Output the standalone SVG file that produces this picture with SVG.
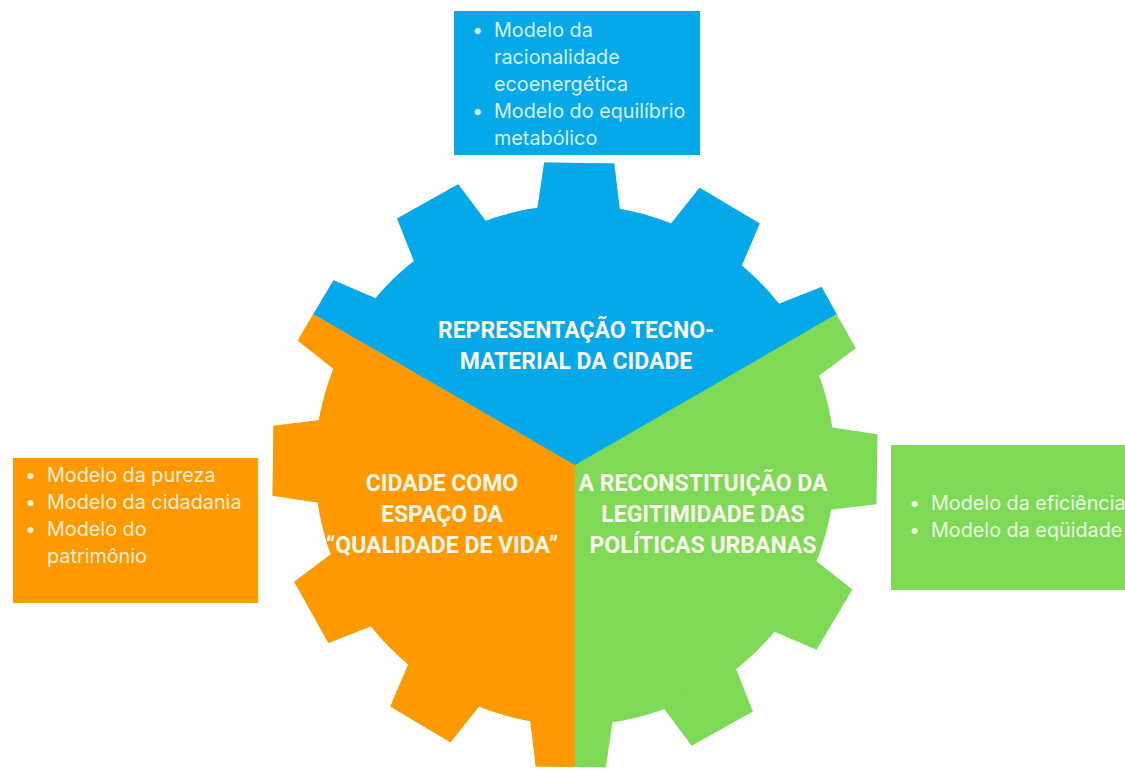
<svg xmlns="http://www.w3.org/2000/svg" xmlns:xlink="http://www.w3.org/1999/xlink" width="1125" height="771" viewBox="0 0 1125 771">
<style>
.blue{fill:#05A8E8}
.orange{fill:#FE9A00}
.green{fill:#7ED957}
.title{font-family:Roboto,"Liberation Sans",sans-serif;font-weight:700;font-size:23px;fill:#FBF7EC;text-anchor:middle}
.item{font-family:Inter,"Liberation Sans",sans-serif;font-size:19.8px;fill:#FFFFFF;fill-opacity:0.85}
</style>
<defs>
<g id="gear-shape">
<circle cx="0" cy="0" r="260"/>
<polygon id="tooth" points="-42,-250 -35,-302 35,-302 42,-250"/>
<use xlink:href="#tooth" transform="rotate(30)"/>
<use xlink:href="#tooth" transform="rotate(60)"/>
<use xlink:href="#tooth" transform="rotate(90)"/>
<use xlink:href="#tooth" transform="rotate(120)"/>
<use xlink:href="#tooth" transform="rotate(150)"/>
<use xlink:href="#tooth" transform="rotate(180)"/>
<use xlink:href="#tooth" transform="rotate(210)"/>
<use xlink:href="#tooth" transform="rotate(240)"/>
<use xlink:href="#tooth" transform="rotate(270)"/>
<use xlink:href="#tooth" transform="rotate(300)"/>
<use xlink:href="#tooth" transform="rotate(330)"/>
</g>
<clipPath id="clip-blue"><polygon points="575,465 -291,-35 1441,-35"/></clipPath>
<clipPath id="clip-orange"><polygon points="575,465 -291,-35 575,1465"/></clipPath>
</defs>

<g id="gear">
<g id="sector-green">
<use xlink:href="#gear-shape" class="green" transform="translate(575,465) rotate(0.8)"/>
<text class="title" x="703" y="491">A RECONSTITUIÇÃO DA</text>
<text class="title" x="703" y="522">LEGITIMIDADE DAS</text>
<text class="title" x="703" y="553">POLÍTICAS URBANAS</text>
</g>
<g id="sector-orange">
<g clip-path="url(#clip-orange)"><use xlink:href="#gear-shape" class="orange" transform="translate(575,465) rotate(0.8)"/></g>
<text class="title" x="442" y="491">CIDADE COMO</text>
<text class="title" x="442" y="522">ESPAÇO DA</text>
<text class="title" x="442" y="553">“QUALIDADE DE VIDA”</text>
</g>
<g id="sector-blue">
<g clip-path="url(#clip-blue)"><use xlink:href="#gear-shape" class="blue" transform="translate(575,465) rotate(0.8)"/></g>
<text class="title" x="576" y="338">REPRESENTAÇÃO TECNO-</text>
<text class="title" x="576" y="369">MATERIAL DA CIDADE</text>
</g>
</g>

<g id="connectors"/>

<g id="box-blue">
<rect class="blue" x="454" y="11" width="246" height="144"/>
<text class="item"><tspan x="472" y="37">•</tspan><tspan x="494" y="37">Modelo da</tspan><tspan x="494" y="64">racionalidade</tspan><tspan x="494" y="91">ecoenergética</tspan><tspan x="472" y="118">•</tspan><tspan x="494" y="118">Modelo do equilíbrio</tspan><tspan x="494" y="145">metabólico</tspan></text>
</g>

<g id="box-orange">
<rect class="orange" x="13" y="458" width="245" height="145"/>
<text class="item"><tspan x="25" y="482">•</tspan><tspan x="47" y="482">Modelo da pureza</tspan><tspan x="25" y="509">•</tspan><tspan x="47" y="509">Modelo da cidadania</tspan><tspan x="25" y="536">•</tspan><tspan x="47" y="536">Modelo do</tspan><tspan x="47" y="563">patrimônio</tspan></text>
</g>

<g id="box-green">
<rect class="green" x="891" y="445" width="240" height="145"/>
<text class="item"><tspan x="909" y="510">•</tspan><tspan x="931" y="510">Modelo da eficiência</tspan><tspan x="909" y="537">•</tspan><tspan x="931" y="537">Modelo da eqüidade</tspan></text>
</g>
</svg>
